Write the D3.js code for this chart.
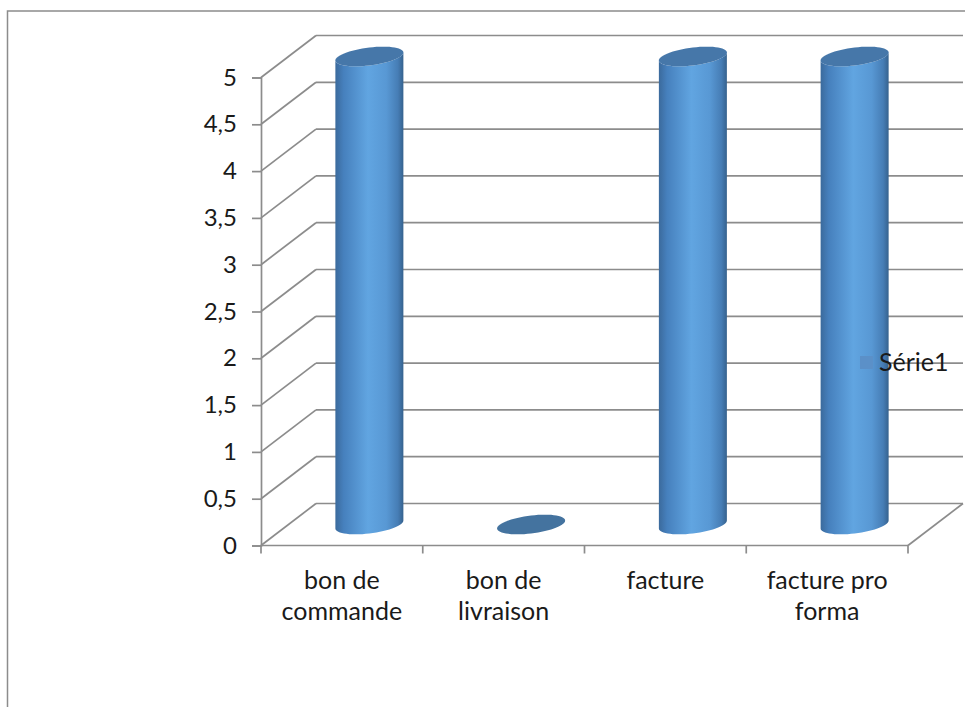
<!DOCTYPE html>
<html>
<head>
<meta charset="utf-8">
<script src="https://cdn.jsdelivr.net/npm/d3@7"></script>
<style>
  html, body { margin: 0; padding: 0; background: #fff; }
  svg { display: block; }
  text { font-family: Lato, "Open Sans", sans-serif; fill: #1a1a1a; }
</style>
</head>
<body>
<svg id="chart" width="965" height="707"></svg>
<script>
const categories = [["bon de", "commande"], ["bon de", "livraison"], ["facture"], ["facture pro", "forma"]];
const values = [5, 0, 5, 5];
const yTicks = [0, 0.5, 1, 1.5, 2, 2.5, 3, 3.5, 4, 4.5, 5];
const yTickLabels = ["0", "0,5", "1", "1,5", "2", "2,5", "3", "3,5", "4", "4,5", "5"];
const seriesName = "Série1";

const svg = d3.select("#chart");
const W = 965, H = 707;

// frame
svg.append("rect").attr("x", 7.5).attr("y", 11).attr("width", W + 10).attr("height", H + 10)
  .attr("fill", "#fff").attr("stroke", "#8c8c8c").attr("stroke-width", 1.5);

const x0 = 261, x1 = 908, yBottom = 545.5, yTop = 77.5;
const dx = 55, dy = -42;
const x = d3.scaleBand().domain(d3.range(categories.length)).range([x0, x1]).paddingInner(0).paddingOuter(0);
const y = d3.scaleLinear().domain([0, 5]).range([yBottom, yTop]);

const gridColor = "#8c8c8c";
const g = svg.append("g");

// side wall diagonals and back wall gridlines
yTicks.forEach(t => {
  const yy = y(t);
  g.append("line").attr("x1", x0).attr("y1", yy).attr("x2", x0 + dx).attr("y2", yy + dy)
    .attr("stroke", gridColor).attr("stroke-width", 1.7);
  g.append("line").attr("x1", x0 + dx).attr("y1", yy + dy).attr("x2", x1 + dx).attr("y2", yy + dy)
    .attr("stroke", gridColor).attr("stroke-width", 1.7);
});
// floor right diagonal
g.append("line").attr("x1", x1).attr("y1", yBottom).attr("x2", x1 + dx).attr("y2", yBottom + dy)
  .attr("stroke", gridColor).attr("stroke-width", 1.7);

// y axis
const yAxis = d3.axisLeft(y).tickValues(yTicks).tickSize(9).tickPadding(15)
  .tickFormat((d, i) => yTickLabels[i]);
const ya = svg.append("g").attr("transform", `translate(${x0},0)`).call(yAxis);
ya.select(".domain").attr("stroke", gridColor).attr("stroke-width", 1.7);
ya.selectAll(".tick line").attr("stroke", gridColor).attr("stroke-width", 1.7);
ya.selectAll(".tick text").attr("font-size", 24).attr("font-family", "Lato, sans-serif").attr("fill", "#1a1a1a");

// x axis
const xa = svg.append("g").attr("transform", `translate(0,${yBottom})`);
xa.append("line").attr("x1", x0).attr("x2", x1).attr("stroke", gridColor).attr("stroke-width", 1.7);
const bounds = d3.range(categories.length + 1).map(i => i < categories.length ? x(i) : x1);
bounds.forEach(b => {
  xa.append("line").attr("x1", b).attr("x2", b).attr("y1", 0).attr("y2", 8)
    .attr("stroke", gridColor).attr("stroke-width", 1.7);
});
categories.forEach((lines, i) => {
  const t = xa.append("text").attr("x", x(i) + x.bandwidth() / 2).attr("y", 43)
    .attr("text-anchor", "middle").attr("font-size", 25);
  lines.forEach((ln, j) => {
    t.append("tspan").attr("x", x(i) + x.bandwidth() / 2).attr("dy", j === 0 ? 0 : 31).text(ln);
  });
});

// gradient for cylinders
const defs = svg.append("defs");
const grad = defs.append("linearGradient").attr("id", "cyl").attr("x1", "0%").attr("x2", "100%").attr("y1", "0%").attr("y2", "0%");
[["0%", "#3b6a9c"], ["12%", "#4680bd"], ["48%", "#61a5e1"], ["75%", "#5898d4"], ["92%", "#467db5"], ["100%", "#36628e"]]
  .forEach(([o, c]) => grad.append("stop").attr("offset", o).attr("stop-color", c));

const rx = 34, ry = 9, tilt = 4;
function ellPt(cx, cy, phi) {
  const c = Math.cos(phi), s = Math.sin(phi);
  return [cx + rx * c, cy + ry * s - tilt * c];
}
function ellipsePath(cx, cy) {
  const pts = d3.range(0, 361, 6).map(a => ellPt(cx, cy, a * Math.PI / 180));
  return d3.line()(pts) + "Z";
}
function bodyPath(cx, cyT, cyB) {
  const pts = [];
  pts.push(ellPt(cx, cyT, Math.PI));
  d3.range(180, -1, -6).forEach(a => pts.push(ellPt(cx, cyB, a * Math.PI / 180)));
  d3.range(0, 181, 6).forEach(a => pts.push(ellPt(cx, cyT, a * Math.PI / 180)));
  return d3.line()(pts) + "Z";
}

values.forEach((v, i) => {
  const cx = x(i) + x.bandwidth() / 2 + dx / 2;
  const cyB = y(0) + dy / 2;
  const cyT = y(v) + dy / 2;
  if (v > 0) {
    svg.append("path").attr("d", bodyPath(cx, cyT, cyB)).attr("fill", "url(#cyl)");
    svg.append("path").attr("d", ellipsePath(cx, cyT)).attr("fill", "#4677a9");
  } else {
    svg.append("path").attr("d", ellipsePath(cx, cyT)).attr("fill", "#44739f");
  }
});

// legend
const lg = svg.append("g");
lg.append("rect").attr("x", 860).attr("y", 356).attr("width", 13).attr("height", 13)
  .attr("fill", "#5b90c8");
lg.append("text").attr("x", 879).attr("y", 371).attr("font-size", 25).text(seriesName);
</script>
</body>
</html>
